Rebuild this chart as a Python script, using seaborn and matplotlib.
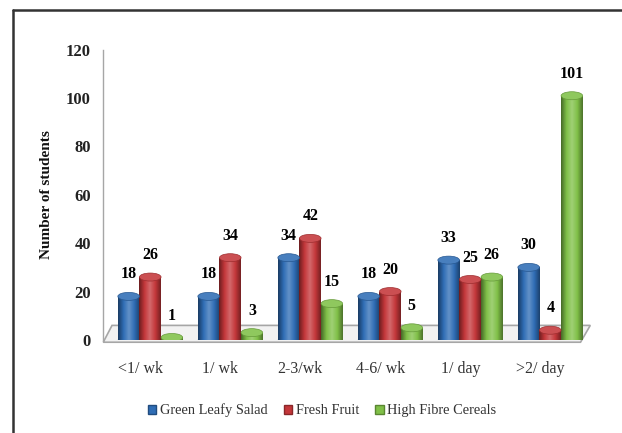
import numpy as np
import pandas as pd
import matplotlib
matplotlib.use("Agg")
import matplotlib.pyplot as plt
import seaborn as sns
from matplotlib.colors import LinearSegmentedColormap, to_rgb
from matplotlib.patches import Ellipse, Polygon, Rectangle
from matplotlib.lines import Line2D

# Intake frequency categories and number of students per food group
frequency = ["<1/ wk", "1/ wk", "2-3/wk", "4-6/ wk", "1/ day", ">2/ day"]
green_leafy_salad = [18, 18, 34, 18, 33, 30]
fresh_fruit = [26, 34, 42, 20, 25, 4]
high_fibre_cereals = [1, 3, 15, 5, 26, 101]
series_names = ["Green Leafy Salad", "Fresh Fruit", "High Fibre Cereals"]
y_ticks = [0, 20, 40, 60, 80, 100, 120]

colors = ["#2f6db5", "#c4373a", "#80c048"]

df = pd.DataFrame({
    "Frequency": frequency * 3,
    "Students": green_leafy_salad + fresh_fruit + high_fibre_cereals,
    "Food": [series_names[0]] * 6 + [series_names[1]] * 6 + [series_names[2]] * 6,
})

sns.set_theme(style="white")
plt.rcParams["font.family"] = ["Liberation Serif", "DejaVu Serif"]

fig = plt.figure(figsize=(6.22, 4.33), dpi=100)
ax = fig.add_axes([0.166, 0.215, 0.783, 0.67])

sns.barplot(data=df, x="Frequency", y="Students", hue="Food",
            palette=colors, saturation=1, width=0.81, ax=ax,
            legend=False, edgecolor="none")

X_LIM = (-0.5875, 5.5)
ax.set_ylim(0, 120)
ax.set_xlim(*X_LIM)
ax.set_yticks(y_ticks)


def shade(c, f):
    r = np.array(to_rgb(c))
    if f < 1:
        return tuple(r * f)
    return tuple(r + (1 - r) * (f - 1))


# Cylinder-style shading on every bar, plus an elliptical cap
yscale = 120 / 290.0  # data units per pixel, vertical
for i, cont in enumerate(ax.containers):
    base = colors[i]
    cmap = LinearSegmentedColormap.from_list(
        "cyl%d" % i,
        [shade(base, 0.55), shade(base, 1.0), shade(base, 1.25),
         shade(base, 1.0), shade(base, 0.6)])
    for bar, val in zip(cont.patches, cont.datavalues):
        x0 = bar.get_x()
        w = bar.get_width()
        h = bar.get_height()
        grad = np.linspace(0, 1, 64).reshape(1, -1)
        im = ax.imshow(grad, cmap=cmap, aspect="auto",
                       extent=(x0, x0 + w, 0, h), zorder=3)
        im.set_clip_path(bar)
        cap_h = 8 * yscale
        ax.add_patch(Ellipse((x0 + w / 2, h), w, cap_h,
                             facecolor=shade(base, 1.12),
                             edgecolor=shade(base, 0.8), lw=0.5, zorder=4))
        ax.add_patch(Ellipse((x0 + w / 2, 0), w, cap_h,
                             facecolor=shade(base, 0.7),
                             edgecolor="none", zorder=2.5))
        ax.annotate("%d" % val, (x0 + w / 2, h), xytext=(0, 10),
                    textcoords="offset points", ha="center", va="bottom",
                    fontsize=11.5, color="black", fontweight="bold",
                    zorder=6)

ax.set_xlim(*X_LIM)
ax.set_ylim(0, 120)
ax.set_xticks(np.arange(len(frequency)) - 0.125, frequency)

# Thin floor under the bars
floor = Polygon([(0.0, -0.008), (0.98, -0.008), (1.0, 0.05), (0.018, 0.05)],
                closed=True, transform=ax.transAxes, facecolor="#f2f2f2",
                edgecolor="#a6a6a6", lw=1.2, zorder=1, clip_on=False)
ax.add_patch(floor)

for s in ["top", "right", "bottom"]:
    ax.spines[s].set_visible(False)
ax.spines["left"].set_color("#a6a6a6")
ax.spines["left"].set_linewidth(1.0)

ax.tick_params(axis="y", length=0, pad=9, labelsize=12, labelcolor="#222222")
ax.tick_params(axis="x", length=0, pad=15, labelsize=11.5, labelcolor="#333333")
for t in ax.get_yticklabels():
    t.set_fontweight("bold")
ax.set_xlabel("")
ax.set_ylabel("Number of students", fontsize=11, fontweight="bold",
              color="#111111", labelpad=9)

handles = [Rectangle((0, 0), 1, 1, facecolor=c, edgecolor=shade(c, 0.7))
           for c in colors]
fig.legend(handles, series_names, loc="center", bbox_to_anchor=(0.518, 0.052),
           ncol=3, frameon=False, fontsize=10.4, handlelength=0.6,
           handleheight=0.6, handletextpad=0.25, columnspacing=1.1,
           labelcolor="#333333")

# Outer frame lines along the top and left edges
fig.add_artist(Line2D([13 / 622, 1.0], [1 - 10 / 433, 1 - 10 / 433],
                      transform=fig.transFigure, color="#333333", lw=1.8))
fig.add_artist(Line2D([13 / 622, 13 / 622], [0.0, 1 - 10 / 433],
                      transform=fig.transFigure, color="#333333", lw=1.8))

fig.savefig("out.png", dpi=100)
